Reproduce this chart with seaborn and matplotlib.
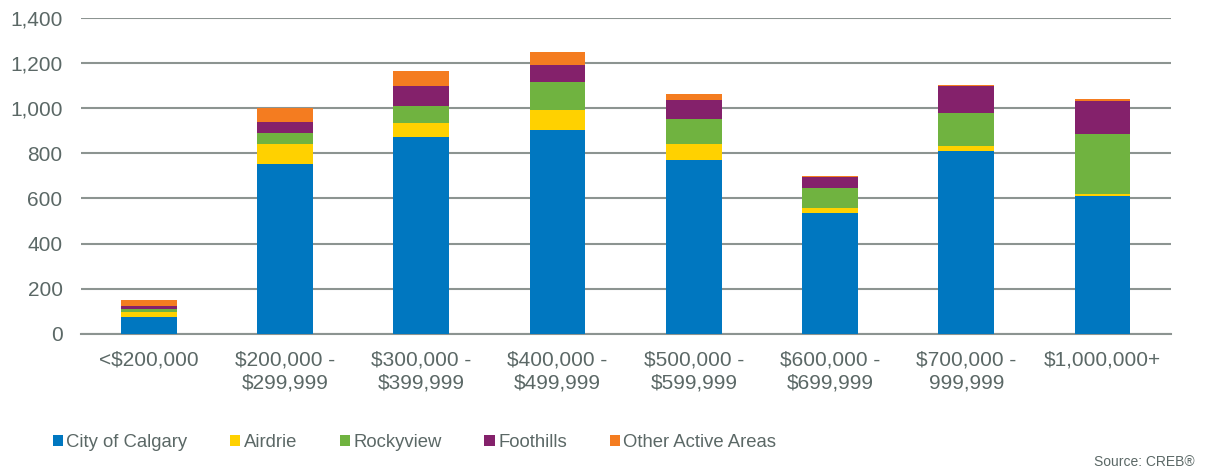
import pandas as pd
import numpy as np
import matplotlib.pyplot as plt
import seaborn as sns
from matplotlib.patches import Patch

# price ranges and sales by area
price_ranges = ['<$200,000', '$200,000 -\n$299,999', '$300,000 -\n$399,999', '$400,000 -\n$499,999',
                '$500,000 -\n$599,999', '$600,000 -\n$699,999', '$700,000 -\n999,999', '$1,000,000+']
calgary = [77, 754, 873, 903, 770, 535, 810, 609]
airdrie = [21, 86, 62, 91, 73, 21, 22, 10]
rockyview = [12, 50, 74, 120, 111, 91, 145, 267]
foothills = [14, 49, 90, 78, 83, 49, 123, 147]
other = [27, 61, 65, 55, 25, 3, 4, 7]

areas = ['City of Calgary', 'Airdrie', 'Rockyview', 'Foothills', 'Other Active Areas']
colors = ['#0077C0', '#FFD100', '#70B340', '#84216B', '#F47C20']

df = pd.DataFrame({'range': price_ranges, 'City of Calgary': calgary, 'Airdrie': airdrie,
                   'Rockyview': rockyview, 'Foothills': foothills, 'Other Active Areas': other})
cum = df[areas].cumsum(axis=1)
cum['range'] = df['range']

sns.set_style('white')
plt.rcParams['font.family'] = ['Liberation Sans', 'DejaVu Sans']
text_col = '#5b6866'

fig = plt.figure(figsize=(12.22, 4.71), dpi=100)
ax = fig.add_axes([0.066, 0.291, 0.892, 0.671])

# draw from the top of the stack down so lower segments cover upper ones
for area, col in zip(areas[::-1], colors[::-1]):
    sns.barplot(data=cum, x='range', y=area, color=col, width=0.41, ax=ax,
                saturation=1, zorder=3, edgecolor='none')

ax.set_ylim(0, 1400)
ax.set_yticks(range(0, 1401, 200))
ax.set_yticklabels([f'{v:,}' for v in range(0, 1401, 200)])
ax.set_xlim(-0.5, 7.5)
ax.yaxis.grid(True, color='#8C9491', linewidth=1.5, zorder=0)
ax.set_axisbelow(True)
for s in ['top', 'right', 'left']:
    ax.spines[s].set_visible(False)
ax.spines['bottom'].set_color('#8C9491')
ax.spines['bottom'].set_linewidth(1.5)
ax.tick_params(axis='both', length=0, labelsize=15, colors=text_col)
ax.tick_params(axis='y', pad=13)
ax.tick_params(axis='x', pad=12)
for lab in ax.get_xticklabels():
    lab.set_linespacing(1.25)
ax.set_xlabel('')
ax.set_ylabel('')

handles = [Patch(facecolor=c, edgecolor='none') for c in colors]
fig.legend(handles, areas, loc='center left', bbox_to_anchor=(0.037, 0.061), ncol=5,
           frameon=False, fontsize=13.3, handlelength=0.55, handleheight=0.55,
           handletextpad=0.2, columnspacing=2.3, labelcolor=text_col, borderaxespad=0)

fig.text(0.978, 0.005, 'Source: CREB®', ha='right', va='bottom', fontsize=10, color=text_col)

fig.savefig('out.png', dpi=100)
